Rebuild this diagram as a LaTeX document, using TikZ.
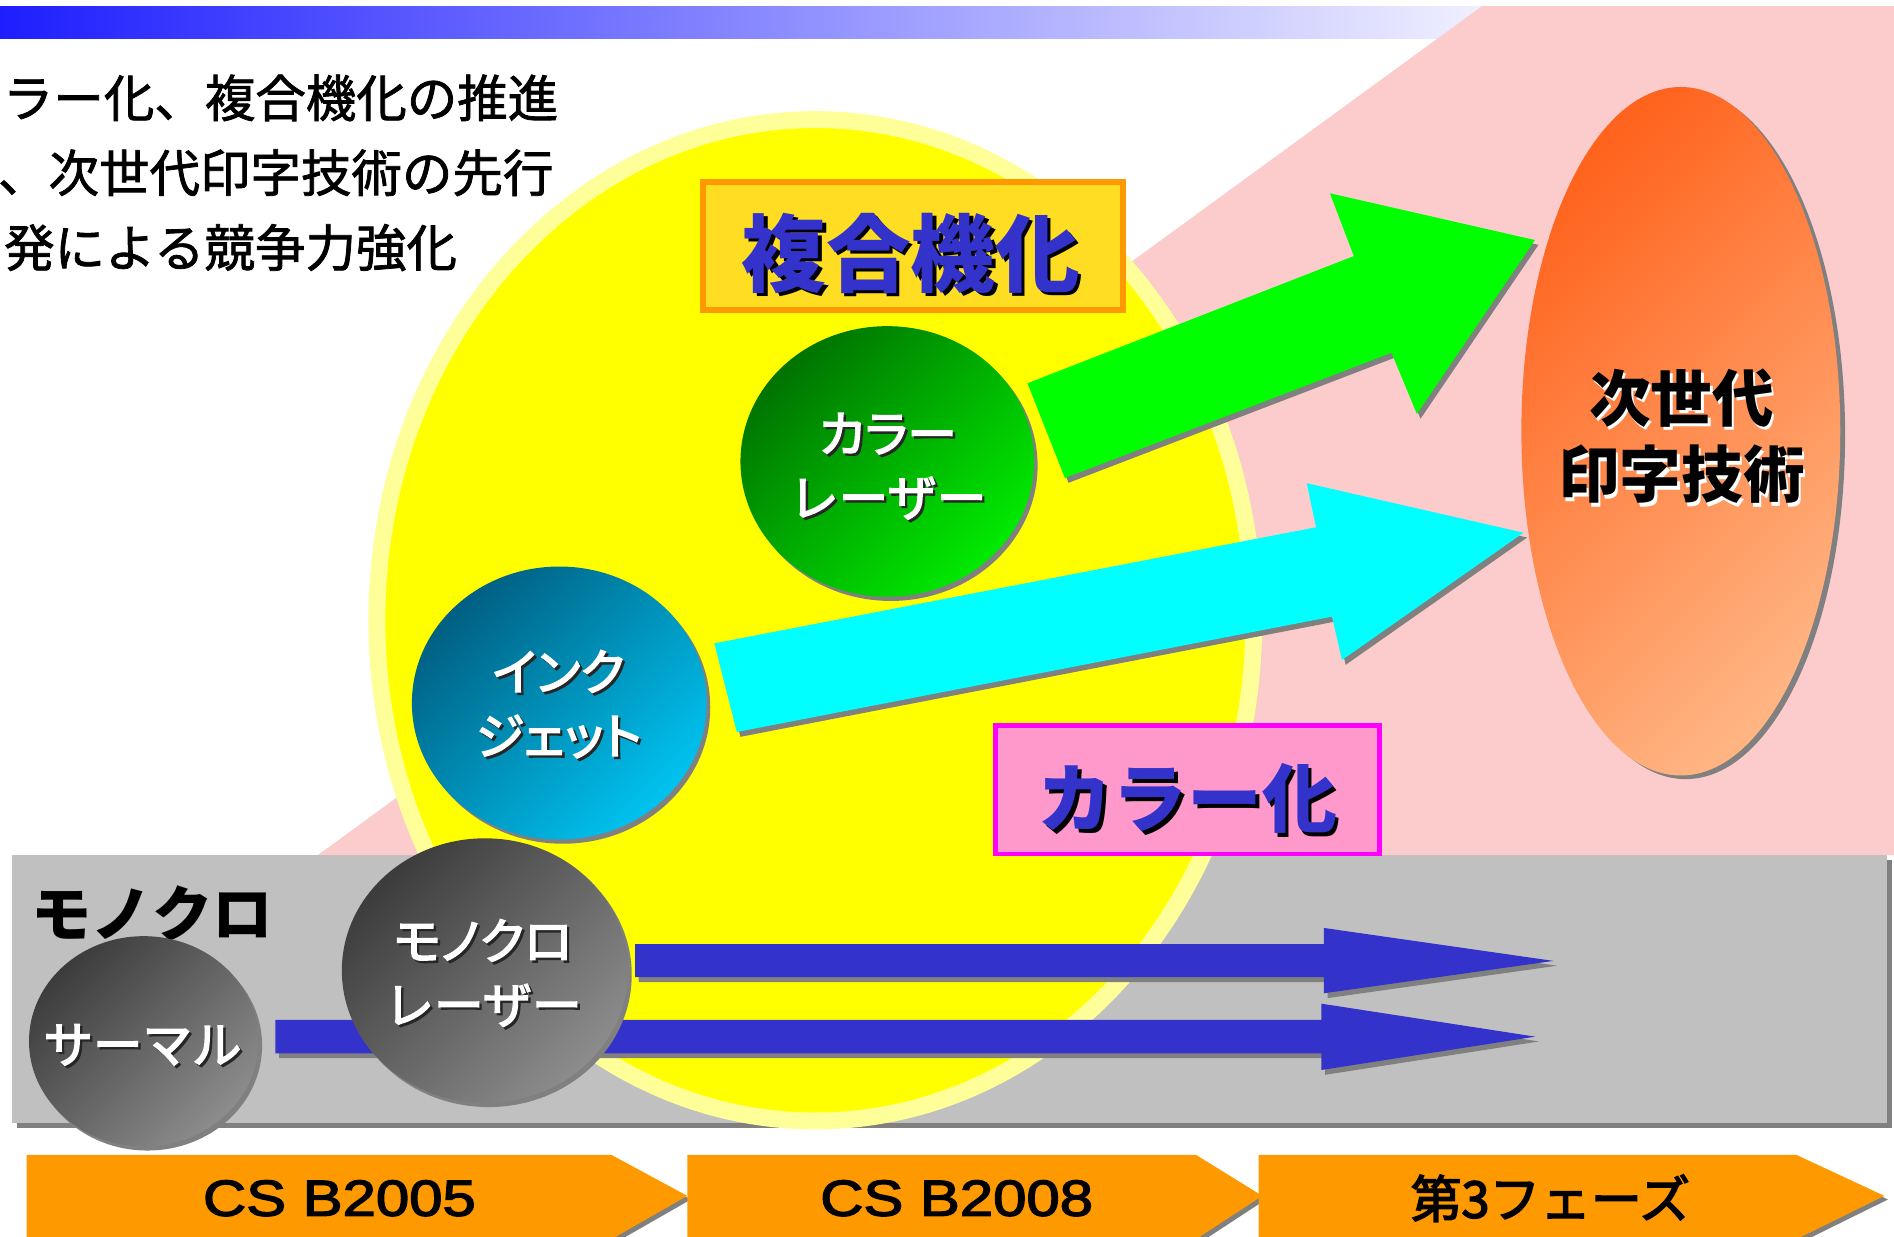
\documentclass[tikz,border=0pt]{standalone}
\usepackage{fontspec}
\usepackage{graphicx}
\newfontfamily\jp{Noto Sans CJK JP}
\newfontfamily\jpm[FakeBold=1.5]{Noto Sans CJK JP}
\newfontfamily\jpc[FakeBold=3]{Noto Sans CJK JP}
\newfontfamily\jpp[RawFeature=+palt,FakeBold=3]{Noto Sans CJK JP}
\newfontfamily\arialf[FakeBold=2.5]{Liberation Sans}
\definecolor{barL}{RGB}{30,30,255}
\definecolor{barR}{RGB}{242,242,255}
\definecolor{pinkbg}{RGB}{252,204,204}
\definecolor{grayrect}{RGB}{192,192,192}
\definecolor{shadowgray}{RGB}{128,128,128}
\definecolor{ylight}{RGB}{255,255,153}
\definecolor{ymain}{RGB}{255,255,0}
\definecolor{gold}{RGB}{255,221,34}
\definecolor{orangeb}{RGB}{255,153,0}
\definecolor{pinkbox}{RGB}{255,153,204}
\definecolor{magentab}{RGB}{255,0,255}
\definecolor{navytext}{RGB}{51,51,204}
\definecolor{arrowgreen}{RGB}{0,255,0}
\definecolor{arrowcyan}{RGB}{0,255,255}
\definecolor{gTop}{RGB}{0,115,0}
\definecolor{gBot}{RGB}{0,235,0}
\definecolor{bTop}{RGB}{0,95,130}
\definecolor{bBot}{RGB}{0,195,240}
\definecolor{kTop}{RGB}{60,60,60}
\definecolor{kBot}{RGB}{140,140,140}
\definecolor{oTop}{RGB}{255,100,30}
\definecolor{oBot}{RGB}{255,180,130}

\newcommand\shtext[5]{%
  \node[#3,#4] (#2-s) at (#1) {#5};
  \node[#3] (#2) at (#1) {#5};}
\newcommand\greenarrow[1]{\fill[#1] (850.6,317.3) -- (1120.8,212) -- (1101,160) -- (1270.7,198.7) -- (1173,342.7) -- (1152,292) -- (881.6,395.7) -- cycle;}
\newcommand\cyanarrow[1]{\fill[#1] (591.4,532.6) -- (1089.5,436.5) -- (1081.8,400) -- (1261.3,441) -- (1111,546.4) -- (1102.7,510.5) -- (610,606) -- cycle;}
\newcommand\bluearrowA[1]{\fill[#1] (525.7,781.5) -- (1096,781.5) -- (1096,768.2) -- (1286,795.5) -- (1096,822.3) -- (1096,809) -- (525.7,809) -- cycle;}
\newcommand\bluearrowB[1]{\fill[#1] (228,844.4) -- (1094,844.4) -- (1094,830.9) -- (1271,858.2) -- (1094,885.8) -- (1094,872) -- (228,872) -- cycle;}
\newcommand\chev[4]{\fill[#1] (#2,956) -- (#3,956) -- (#4,990) -- (#3,1026) -- (#2,1026) -- cycle;}

\begin{document}
\begin{tikzpicture}[x=0.5pt,y=-0.5pt,
  circtext/.style={text=white, font=\jpc\fontsize{20.5}{26.5}\selectfont, align=center, inner sep=0pt},
  darksh/.style={text=black!85, xshift=1pt, yshift=-1pt},
  titletext/.style={text=navytext, inner sep=0pt},
  blacksh/.style={text=black, xshift=1.5pt, yshift=-1.5pt},
  whitesh/.style={text=white, xshift=1pt, yshift=-1.5pt},
  toptext/.style={anchor=west, inner sep=0pt, text=black, font=\jpm\fontsize{20.9}{24}\selectfont},
  phasetext/.style={inner sep=0pt, text=black},
  boxA/.style={draw=orangeb, line width=2.5pt, fill=gold, inner sep=0pt, minimum width=173.75pt, minimum height=53pt},
  boxB/.style={draw=magentab, line width=2pt, fill=pinkbox, inner sep=0pt, minimum width=158.85pt, minimum height=53.2pt}]
\useasboundingbox (0,0) rectangle (1568,1024);
\fill[white] (0,0) rectangle (1568,1024);
% top bar
\shade[left color=barL,right color=barR] (0,5) rectangle (1240,32);
% pink background
\fill[pinkbg] (1227,5) -- (1568,5) -- (1568,708) -- (263,708) -- cycle;
% gray band
\fill[shadowgray] (14,712) rectangle (1566,934);
\fill[grayrect] (10,708) rectangle (1562,930);
% yellow ellipse
\draw[ylight, line width=7pt, fill=ymain] (675,513.5) ellipse [x radius=181.5pt, y radius=207.25pt];
% top text
\node[toptext] (t1) at (2,81) {ラー化、複合機化の推進};
\node[toptext] (t2) at (-2,143) {、次世代印字技術の先行};
\node[toptext] (t3) at (3,205) {発による競争力強化};
% mono label
\node[inner sep=0pt, text=black, font=\jp\bfseries\fontsize{25}{30}\selectfont] (mono) at (126,756) {モノクロ};
% blue arrows
\bluearrowA{shadowgray,shift={(3,4)}}
\bluearrowA{navytext}
\bluearrowB{shadowgray,shift={(3,4)}}
\bluearrowB{navytext}
% circles
\fill[shadowgray] (737.5,385.5) ellipse [x radius=60.75pt, y radius=56pt];
\shade[top color=gTop,bottom color=gBot,shading angle=45] (734.5,382) ellipse [x radius=60.75pt, y radius=56pt];
\shtext{735,386}{clt}{circtext}{darksh}{{\jpp カラー}\\レーザー}
\fill[shadowgray] (466,585.5) ellipse [x radius=61pt, y radius=56.5pt];
\shade[top color=bTop,bottom color=bBot,shading angle=45] (463,582) ellipse [x radius=61pt, y radius=56.5pt];
\shtext{462.5,583}{ijt}{circtext}{darksh}{{\jpp インク}\\{\jpp ジェット}}
\fill[shadowgray] (404.5,807) ellipse [x radius=59.25pt, y radius=54.75pt];
\shade[top color=kTop,bottom color=kBot,shading angle=45] (401.5,803.5) ellipse [x radius=59.25pt, y radius=54.75pt];
\shtext{400,805.5}{mlt}{circtext}{darksh}{{\jpp モノクロ}\\レーザー}
\fill[shadowgray] (122,865.5) ellipse [x radius=47.5pt, y radius=43.5pt];
\shade[top color=kTop,bottom color=kBot,shading angle=45] (119,862) ellipse [x radius=47.5pt, y radius=43.5pt];
\shtext{118,865}{thm}{circtext}{darksh}{サーマル}
% green and cyan arrows
\greenarrow{shadowgray,shift={(3,4)}}
\greenarrow{arrowgreen}
\cyanarrow{shadowgray,shift={(3,4)}}
\cyanarrow{arrowcyan}
% title boxes
\node[boxA] (fukugo) at (755.75,203.5) {};
\shtext{754,209.5}{fukugot}{titletext,font=\jp\bfseries\fontsize{35}{40}\selectfont}{blacksh}{複合機化}
\node[boxB] (color) at (982.85,653.8) {};
\shtext{983,661}{colort}{titletext,font=\jp\bfseries\fontsize{31}{36}\selectfont}{blacksh}{カラー化}
% orange ellipse
\fill[shadowgray] (1395.5,360) ellipse [x radius=66pt, y radius=142.5pt];
\shade[top color=oTop,bottom color=oBot,shading angle=45] (1391.5,357) ellipse [x radius=66pt, y radius=142.5pt];
\shtext{1392,361}{next}{inner sep=0pt,text=black,align=center,font=\jp\bfseries\fontsize{25.5}{31.75}\selectfont}{whitesh}{次世代\\印字技術}
% phase chevrons
\chev{shadowgray,shift={(3,3)}}{22}{506}{569}
\chev{orangeb}{22}{506}{569}
\chev{shadowgray,shift={(3,3)}}{569}{990}{1045}
\chev{orangeb}{569}{990}{1045}
\chev{shadowgray,shift={(3,3)}}{1042}{1487}{1560}
\chev{orangeb}{1042}{1487}{1560}
\node[phasetext, font=\arialf\fontsize{21}{24}\selectfont] (p1) at (281,992) {\scalebox{1.18}[1]{CS B2005}};
\node[phasetext, font=\arialf\fontsize{21}{24}\selectfont] (p2) at (792,992) {\scalebox{1.18}[1]{CS B2008}};
\node[phasetext, font=\jpc\fontsize{21}{24}\selectfont] (p3) at (1283.5,992) {第3フェーズ};
\end{tikzpicture}
\end{document}
